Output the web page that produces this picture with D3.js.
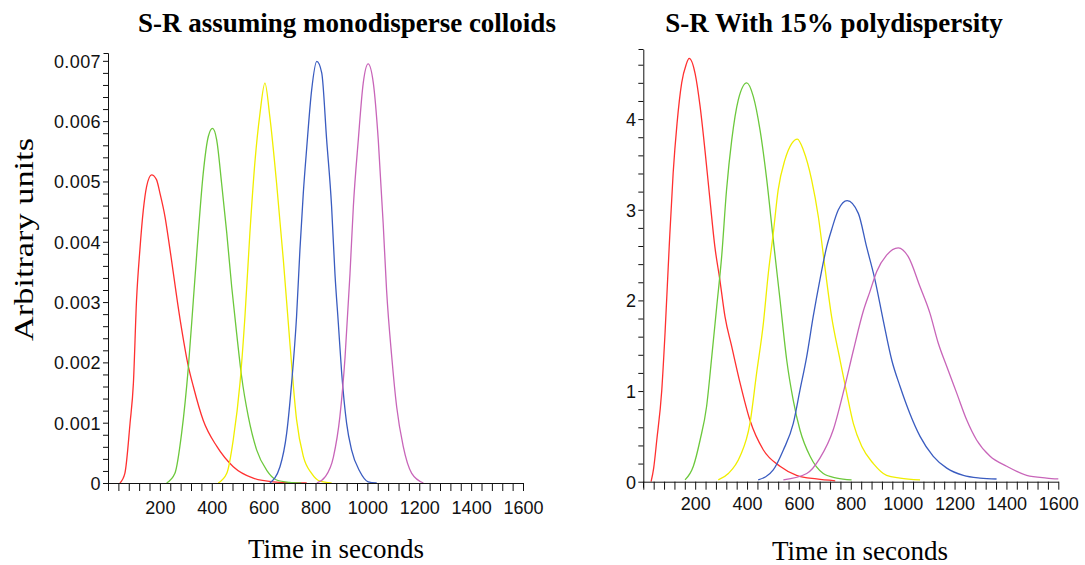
<!DOCTYPE html>
<html><head><meta charset="utf-8">
<script src="https://cdn.jsdelivr.net/npm/d3@7"></script>
<style>
html,body{margin:0;padding:0;background:#fff;}
svg{display:block;}
</style></head><body>
<svg id="chart" width="1085" height="565"></svg>
<script>
// ---------- data (time in s, value) ----------
const monoRed = [[46,0],[65,0.00016],[85,0.00099],[98,0.00166],[110,0.00303],[123,0.00387],[136,0.00452],[149,0.00492],[168,0.00511],[187,0.00503],[200,0.00481],[220,0.00441],[239,0.00387],[278,0.00271],[310,0.00193],[329,0.00160],[367,0.00104],[419,0.00061],[483,0.00027],[560,0.00008],[637,0.00002],[766,0]];
const monoGreen = [[226,0],[258,0.00016],[284,0.00083],[310,0.00193],[329,0.00303],[348,0.00414],[367,0.00513],[387,0.00575],[403,0.00588],[419,0.00569],[438,0.00497],[458,0.00414],[477,0.00325],[496,0.00248],[515,0.00177],[541,0.00110],[573,0.00055],[612,0.00021],[650,0.00005],[700,0.00001],[745,0]];
const monoYellow = [[425,0],[458,0.00016],[483,0.00072],[509,0.00166],[528,0.00276],[547,0.00414],[567,0.00535],[586,0.00613],[605,0.00663],[624,0.00607],[650,0.00497],[676,0.00370],[702,0.00228],[727,0.00105],[753,0.00044],[785,0.00016],[817,0.00003],[862,0]];
const monoBlue = [[624,0],[663,0.00027],[689,0.00083],[708,0.00166],[727,0.00276],[740,0.00387],[753,0.00481],[766,0.00555],[785,0.00651],[805,0.00699],[824,0.00680],[843,0.00569],[862,0.00459],[875,0.00347],[888,0.00265],[901,0.00182],[920,0.00099],[939,0.00055],[971,0.00019],[1003,0.00002],[1036,0]];
const monoMagenta = [[805,0],[837,0.00010],[869,0.00043],[894,0.00110],[914,0.00209],[933,0.00347],[946,0.00459],[965,0.00569],[984,0.00663],[1003,0.00695],[1023,0.00663],[1042,0.00569],[1061,0.00430],[1074,0.00320],[1094,0.00209],[1113,0.00126],[1138,0.00061],[1171,0.00016],[1216,0]];

const polyRed = [[30,0],[40,0.15],[52,0.46],[71,1.0],[84,1.65],[100,2.6],[115,3.4],[130,3.95],[148,4.4],[165,4.6],[177,4.67],[200,4.5],[219,4.14],[238,3.65],[257,3.11],[276,2.59],[295,2.23],[315,1.82],[341,1.49],[373,1.09],[411,0.68],[463,0.35],[527,0.17],[591,0.07],[668,0.03],[740,0.01]];
const polyGreen = [[161,0.02],[193,0.17],[219,0.46],[244,0.83],[264,1.38],[283,1.93],[302,2.48],[321,3.22],[341,3.77],[366,4.21],[399,4.40],[424,4.25],[450,3.88],[476,3.33],[501,2.67],[527,2.01],[553,1.34],[578,0.90],[604,0.57],[643,0.28],[694,0.09],[746,0.04],[803,0.02]];
const polyYellow = [[289,0.02],[328,0.09],[373,0.28],[411,0.64],[437,1.20],[463,1.75],[482,2.30],[501,2.74],[520,3.22],[546,3.55],[572,3.73],[594,3.78],[617,3.66],[649,3.33],[675,2.92],[700,2.37],[726,1.82],[758,1.35],[784,0.98],[810,0.64],[842,0.39],[887,0.20],[938,0.07],[990,0.04],[1067,0.02]];
const polyBlue = [[443,0.02],[501,0.13],[540,0.35],[578,0.64],[604,1.01],[630,1.38],[655,1.82],[681,2.23],[707,2.59],[726,2.78],[752,3.00],[786,3.10],[829,2.96],[861,2.59],[893,2.23],[925,1.78],[958,1.34],[990,1.05],[1028,0.75],[1067,0.50],[1118,0.28],[1170,0.15],[1234,0.07],[1298,0.04],[1362,0.03]];
const polyMagenta = [[540,0.02],[630,0.09],[681,0.26],[732,0.57],[775,1.03],[810,1.45],[848,1.88],[874,2.10],[900,2.32],[938,2.50],[983,2.58],[1022,2.48],[1067,2.15],[1105,1.86],[1137,1.53],[1170,1.27],[1208,0.98],[1247,0.68],[1285,0.46],[1337,0.28],[1401,0.17],[1478,0.07],[1555,0.04],[1600,0.03]];

const seriesColors = ["#ff3030","#6cc83c","#f0ee00","#3a5cc0","#c865b9"];
const timeLabels = [200,400,600,800,1000,1200,1400,1600];
const monoLabels = ["0","0.001","0.002","0.003","0.004","0.005","0.006","0.007"];
const polyLabels = ["0","1","2","3","4"];
const titles = ["S-R assuming monodisperse colloids","S-R With 15% polydispersity"];
const xTitle = "Time in seconds";
const yTitle = "Arbitrary units";

// ---------- drawing ----------
const svg = d3.select("#chart");

function panel(cfg){
  const x = d3.scaleLinear().domain([0,1600]).range(cfg.xr);
  const y = d3.scaleLinear().domain([0,cfg.ymax]).range(cfg.yr);
  const g = svg.append("g");

  // lines
  const line = d3.line().x(d=>x(d[0])).y(d=>y(d[1])).curve(d3.curveMonotoneX);
  cfg.series.forEach((s,i)=>{
    g.append("path").datum(s).attr("d",line).attr("fill","none")
      .attr("stroke",seriesColors[i]).attr("stroke-width",1.3).attr("stroke-linejoin","round");
  });

  // x axis
  const xt = d3.range(0,41).map(i=>i*40);
  const xa = d3.axisBottom(x).tickValues(xt).tickSize(8).tickSizeOuter(0)
    .tickFormat(d => timeLabels.includes(d) ? String(d) : "");
  const gx = g.append("g").attr("transform",`translate(0,${cfg.yr[0]})`).call(xa);
  gx.selectAll("text").attr("y", cfg.xLabOff).attr("dy",null)
    .attr("font-family","'Liberation Sans', Arial, sans-serif").attr("font-size",18).attr("fill","#111");

  // y axis
  const nMinor = Math.floor(cfg.ymax/cfg.minor + 1e-6);
  const yt = d3.range(0,nMinor+1).map(i=>i*cfg.minor);
  const ya = d3.axisLeft(y).tickValues(yt).tickSize(5).tickSizeOuter(0)
    .tickFormat((d,i) => (i%5===0) ? cfg.ylabels[i/5] : "");
  const gy = g.append("g").attr("transform",`translate(${cfg.xr[0]},0)`).call(ya);
  gy.selectAll("text").attr("x",-7).attr("dy","0.36em")
    .attr("font-family","'Liberation Sans', Arial, sans-serif").attr("font-size",18)
    .attr("letter-spacing","0.4px").attr("fill","#111");
  [gx,gy].forEach(a=>{a.selectAll("line,path").attr("stroke","#111");a.select(".domain").attr("stroke","#111");});
  // y axis extension below and cap at top
  const ax = Math.round(cfg.xr[0])+0.5;
  g.append("line").attr("x1",ax).attr("x2",ax).attr("y1",cfg.yr[0]).attr("y2",cfg.yr[0]+6).attr("stroke","#111");
  g.append("line").attr("x1",ax-5).attr("x2",ax).attr("y1",Math.round(cfg.yr[1])+0.5).attr("y2",Math.round(cfg.yr[1])+0.5).attr("stroke","#111");

  // titles
  svg.append("text").attr("x",cfg.titleX).attr("y",32).attr("text-anchor","middle")
    .attr("font-family","'Liberation Serif','Times New Roman',serif").attr("font-weight","bold")
    .attr("font-size",27).attr("fill","#000").text(cfg.title);
  svg.append("text").attr("x",cfg.xTitleX).attr("y",cfg.xTitleY).attr("text-anchor","middle")
    .attr("font-family","'Liberation Serif','Times New Roman',serif")
    .attr("font-size",27).attr("fill","#000").text(xTitle);
}

panel({xr:[108,523], yr:[483,53], ymax:0.00713, minor:0.0002, ylabels:monoLabels,
  series:[monoRed,monoGreen,monoYellow,monoBlue,monoMagenta], xLabOff:31,
  title:titles[0], titleX:347, xTitleX:336, xTitleY:558});
panel({xr:[643.3,1058.3], yr:[481.7,49.3], ymax:4.77, minor:0.2, ylabels:polyLabels,
  series:[polyRed,polyGreen,polyYellow,polyBlue,polyMagenta], xLabOff:28.5,
  title:titles[1], titleX:834, xTitleX:860, xTitleY:560});

// y-axis title
svg.append("text").attr("transform","translate(33,239.5) rotate(-90)").attr("text-anchor","middle")
  .attr("font-family","'Liberation Serif','Times New Roman',serif").attr("font-size",27)
  .attr("textLength",203).attr("lengthAdjust","spacingAndGlyphs").attr("fill","#000").text(yTitle);
</script>
</body></html>
